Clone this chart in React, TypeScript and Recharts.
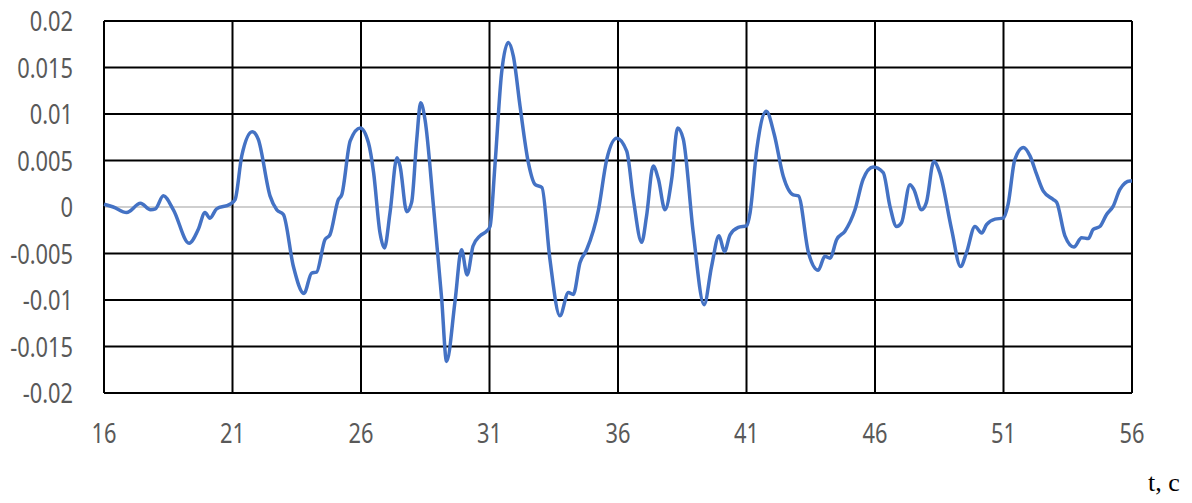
import React from 'react';
import { LineChart, Line, XAxis, YAxis, CartesianGrid } from 'recharts';

// time, s
const tValues = [
  16.0, 16.36, 16.88, 17.42, 17.81, 18.0, 18.31, 18.7, 19.31, 19.67, 19.93, 20.12, 20.38, 20.9,
  21.1, 21.36, 21.77, 22.0, 22.46, 22.72, 22.98, 23.37, 23.78, 24.08, 24.27, 24.6, 24.79, 25.12,
  25.25, 25.58, 25.97, 26.29, 26.49, 26.74, 26.91, 27.13, 27.4, 27.52, 27.78, 27.97, 28.17, 28.32,
  28.49, 28.82, 29.14, 29.33, 29.66, 29.91, 30.13, 30.36, 30.63, 30.89, 31.02, 31.21, 31.47, 31.73,
  31.93, 32.19, 32.51, 32.78, 33.04, 33.35, 33.74, 34.07, 34.26, 34.52, 34.78, 35.24, 35.56, 35.95,
  36.34, 36.6, 36.92, 37.11, 37.37, 37.57, 37.83, 38.09, 38.32, 38.54, 38.93, 39.35, 39.64, 39.93,
  40.14, 40.36, 40.68, 41.01, 41.14, 41.4, 41.77, 42.08, 42.43, 42.82, 43.02, 43.41, 43.79, 44.05,
  44.25, 44.51, 44.83, 45.22, 45.54, 45.93, 46.32, 46.58, 46.84, 47.03, 47.36, 47.51, 47.81, 48.0,
  48.29, 48.52, 48.98, 49.33, 49.56, 49.89, 50.15, 50.34, 50.67, 50.99, 51.18, 51.44, 51.77, 52.03,
  52.29, 52.55, 52.94, 53.07, 53.39, 53.74, 54.04, 54.3, 54.49, 54.75, 55.01, 55.27, 55.53, 55.92,
  56.0,
];

const values = [
  0.0003, 0.0, -0.0006, 0.0004, -0.0003, -0.0002, 0.0012, -0.0003, -0.0039, -0.0024, -0.0006, -0.0012, -0.0002, 0.0003,
  0.0008, 0.0055, 0.0081, 0.0073, 0.0012, -0.0003, -0.0008, -0.0064, -0.0093, -0.0071, -0.007, -0.0035, -0.003, 0.0008,
  0.0013, 0.0071, 0.0085, 0.0069, 0.0037, -0.0028, -0.0044, -0.0006, 0.0053, 0.0044, -0.0005, 0.0005, 0.0073, 0.0112,
  0.0094, 0.0001, -0.0099, -0.0166, -0.0101, -0.0046, -0.0073, -0.0042, -0.0031, -0.0026, -0.0021, 0.0044, 0.0144, 0.0177,
  0.0162, 0.0108, 0.0048, 0.0024, 0.0021, -0.0056, -0.0117, -0.0092, -0.0094, -0.006, -0.0046, -0.0003, 0.0051, 0.0074,
  0.006, 0.0008, -0.0038, -0.001, 0.0044, 0.003, -0.0003, 0.003, 0.0085, 0.0073, -0.0028, -0.0105, -0.0064, -0.0031,
  -0.0048, -0.003, -0.0022, -0.002, -0.0006, 0.0062, 0.0103, 0.0078, 0.0033, 0.0013, 0.0012, -0.0049, -0.0068, -0.0053,
  -0.0055, -0.0035, -0.0026, -0.0003, 0.003, 0.0043, 0.0037, 0.0001, -0.0021, -0.0017, 0.0024, 0.0019, -0.0003, 0.0005,
  0.0049, 0.0037, -0.0024, -0.0064, -0.0049, -0.0021, -0.0028, -0.0019, -0.0013, -0.0012, 0.0003, 0.0051, 0.0064, 0.0055,
  0.0035, 0.0017, 0.0008, 0.0005, -0.0031, -0.0043, -0.0033, -0.0034, -0.0024, -0.0021, -0.0008, 0.0001, 0.0019, 0.0028,
  0.0028,
];

const xTicks = [16, 21, 26, 31, 36, 41, 46, 51, 56];
const yTicks = [-0.02, -0.015, -0.01, -0.005, 0, 0.005, 0.01, 0.015, 0.02];
const yTickLabels = ['-0.02', '-0.015', '-0.01', '-0.005', '0', '0.005', '0.01', '0.015', '0.02'];

const data = tValues.map((t, i) => ({ t, v: values[i] }));

const labelFont = '"Noto Sans", "Open Sans", sans-serif';

const YTick = ({ x, y, payload }: any) => {
  const idx = yTicks.indexOf(payload.value);
  return (
    <g transform={`translate(${x},${y}) scale(0.78,1)`}>
      <text x={0} y={0} dy="0.36em" textAnchor="end" fill="#595959" fontSize={28} fontFamily={labelFont}>
        {idx >= 0 ? yTickLabels[idx] : payload.value}
      </text>
    </g>
  );
};

const XTick = ({ x, y, payload }: any) => (
  <g transform={`translate(${x},${y}) scale(0.78,1)`}>
    <text x={0} y={50} textAnchor="middle" fill="#595959" fontSize={28} fontFamily={labelFont}>
      {payload.value}
    </text>
  </g>
);

const GridLine = (props: any) => {
  const { x1, y1, x2, y2, index } = props;
  const isZero = index === 4;
  return (
    <line
      x1={x1}
      y1={y1}
      x2={x2}
      y2={y2}
      stroke={isZero ? '#bfbfbf' : '#000000'}
      strokeWidth={isZero ? 1.5 : 2}
    />
  );
};

export default function App() {
  return (
    <div style={{ position: 'absolute', left: 0, top: 0, width: 1192, height: 503, background: '#fff' }}>
      <LineChart width={1192} height={503} data={data} margin={{ top: 21, right: 60, bottom: 60, left: 0 }}>
        <CartesianGrid
          stroke="#000"
          strokeWidth={2}
          horizontal={(p: any) => <GridLine key={p.key} {...p} />}
        />
        <XAxis
          dataKey="t"
          type="number"
          domain={[16, 56]}
          ticks={xTicks}
          height={50}
          axisLine={false}
          tickLine={false}
          tickSize={0}
          tickMargin={0}
          tick={<XTick />}
          interval={0}
        />
        <YAxis
          type="number"
          domain={[-0.02, 0.02]}
          ticks={yTicks}
          width={104}
          axisLine={false}
          tickLine={false}
          tickSize={0}
          tickMargin={31}
          tick={<YTick />}
          interval={0}
        />
        <Line
          type="monotone"
          dataKey="v"
          stroke="#4472C4"
          strokeWidth={3.5}
          dot={false}
          isAnimationActive={false}
        />
      </LineChart>
      <div
        style={{
          position: 'absolute',
          left: 1148,
          top: 470,
          fontFamily: '"Liberation Serif", "Times New Roman", serif',
          fontSize: 26,
          lineHeight: '26px',
          color: '#000',
          whiteSpace: 'nowrap',
        }}
      >
        t, c
      </div>
    </div>
  );
}
